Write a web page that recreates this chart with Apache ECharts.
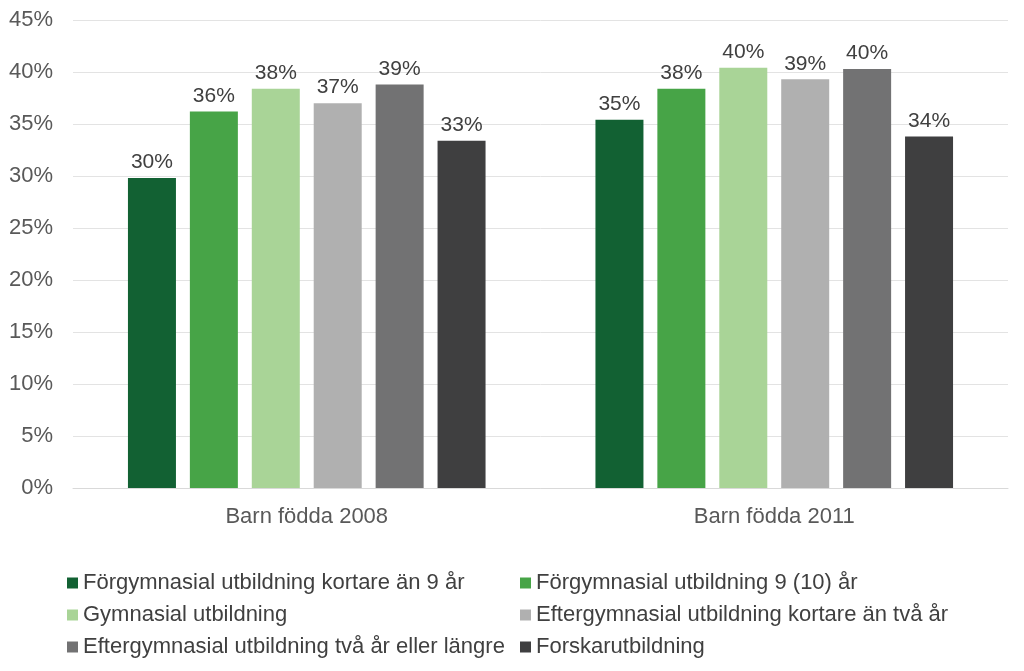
<!DOCTYPE html>
<html>
<head>
<meta charset="utf-8">
<script src="https://cdn.jsdelivr.net/npm/echarts@6/dist/echarts.min.js"></script>
<style>
  html,body{margin:0;padding:0;background:#ffffff;}
  #chart{width:1024px;height:671px;}
</style>
</head>
<body>
<div id="chart"></div>
<script>
  const categories = ['Barn födda 2008', 'Barn födda 2011'];
  const seriesNames = [
    'Förgymnasial utbildning kortare än 9 år',
    'Förgymnasial utbildning 9 (10) år',
    'Gymnasial utbildning',
    'Eftergymnasial utbildning kortare än två år',
    'Eftergymnasial utbildning två år eller längre',
    'Forskarutbildning'
  ];
  const kortare9 = [29.8, 35.4];
  const gymn9 = [36.2, 38.4];
  const gymnasial = [38.4, 40.4];
  const efterKort = [37.0, 39.3];
  const efterLang = [38.8, 40.3];
  const forskar = [33.4, 33.8];
  const colors = ['#126133', '#47a447', '#a9d497', '#b0b0b0', '#727273', '#3f3f40'];
  const yTicks = [0, 45, 5]; // min, max, interval

  const allData = [kortare9, gymn9, gymnasial, efterKort, efterLang, forskar];
  const font = 'Liberation Sans, Arial, sans-serif';

  const myChart = echarts.init(document.getElementById('chart'));

  const series = allData.map((d, i) => ({
    name: seriesNames[i],
    type: 'bar',
    data: d,
    barWidth: 48,
    barGap: '29%',
    itemStyle: { color: colors[i] },
    label: {
      show: true,
      position: 'top',
      distance: 5,
      color: '#404040',
      fontSize: 21,
      fontFamily: font,
      formatter: (p) => Math.round(p.value) + '%'
    }
  }));

  const legendBase = {
    orient: 'vertical',
    top: 567,
    itemWidth: 11,
    itemHeight: 11,
    itemGap: 10,
    icon: 'rect',
    textStyle: { color: '#404040', fontSize: 22, fontFamily: font }
  };

  const option = {
    animation: false,
    color: colors,
    legend: [
      Object.assign({}, legendBase, { left: 62, data: [seriesNames[0], seriesNames[2], seriesNames[4]] }),
      Object.assign({}, legendBase, { left: 515, data: [seriesNames[1], seriesNames[3], seriesNames[5]] })
    ],
    grid: { left: 73, right: 16, top: 20, bottom: 183, containLabel: false },
    xAxis: {
      type: 'category',
      data: categories,
      axisTick: { show: false },
      axisLine: { lineStyle: { color: '#d9d9d9', width: 1 } },
      axisLabel: { color: '#595959', fontSize: 22, fontFamily: font, margin: 18 }
    },
    yAxis: {
      type: 'value',
      min: yTicks[0],
      max: yTicks[1],
      interval: yTicks[2],
      axisLine: { show: false },
      axisTick: { show: false },
      splitLine: { lineStyle: { color: '#e3e3e3', width: 1 } },
      axisLabel: { color: '#595959', fontSize: 22, fontFamily: font, margin: 20, formatter: '{value}%' }
    },
    series: series
  };

  myChart.setOption(option);
</script>
</body>
</html>
